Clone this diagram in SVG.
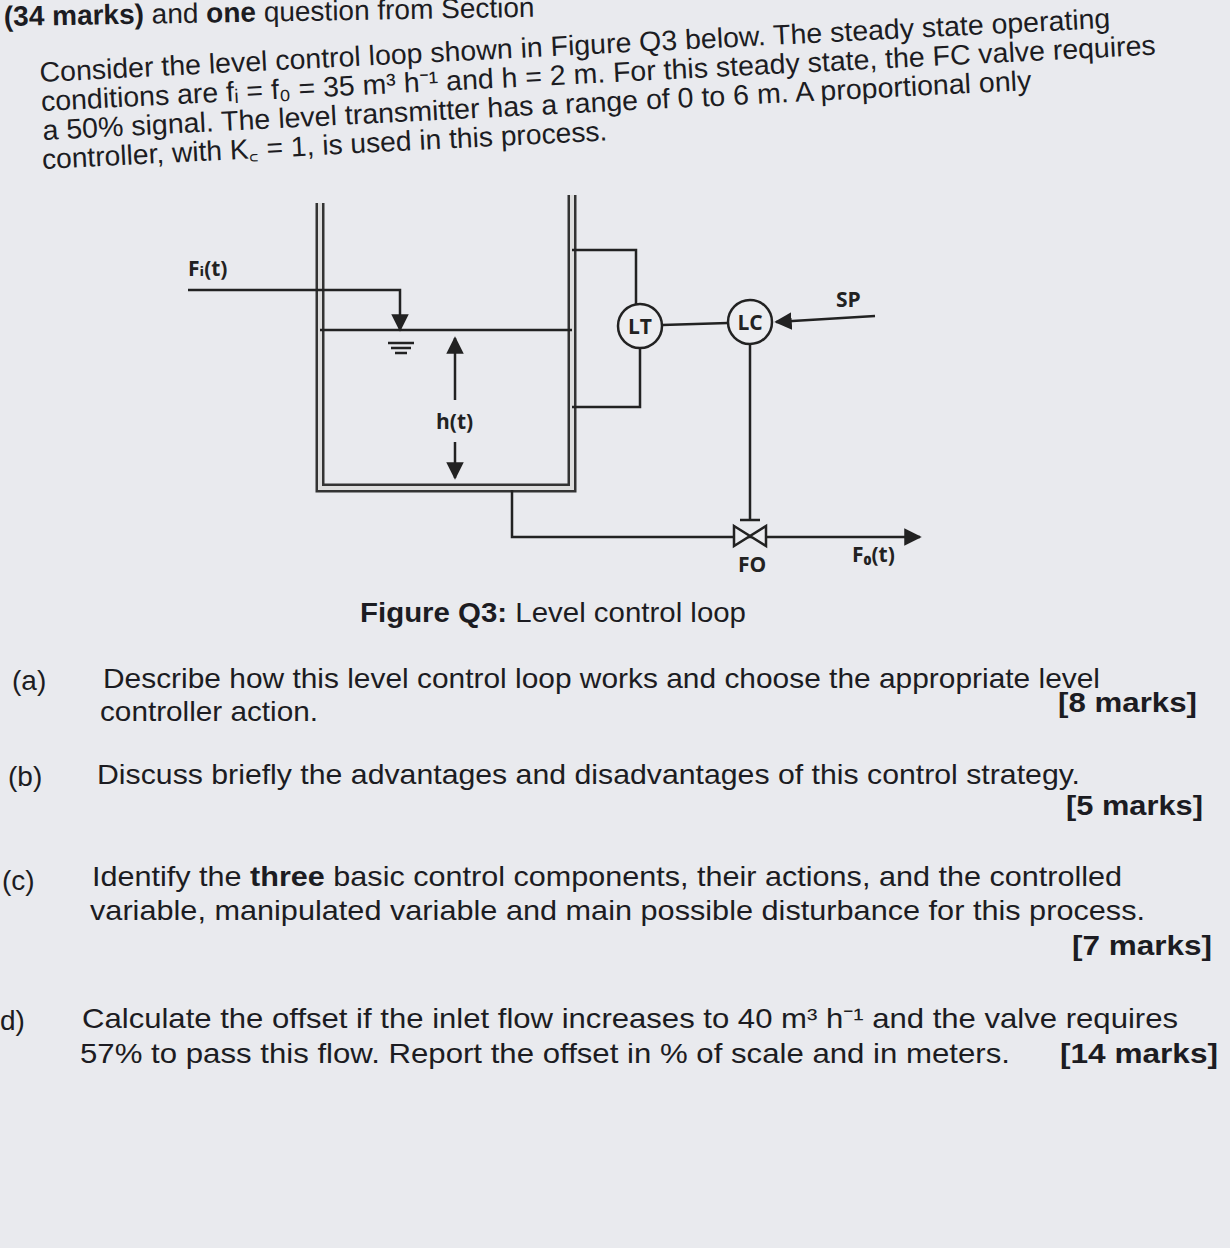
<svg xmlns="http://www.w3.org/2000/svg" width="1230" height="1248" viewBox="0 0 1230 1248">
<defs>
<marker id="ar" viewBox="0 0 10 10" refX="9" refY="5" markerWidth="7" markerHeight="7" orient="auto"><path d="M0,0L10,5L0,10z" fill="#222"/></marker>
<style>
.t{font-family:"Liberation Sans",Arial,sans-serif;font-size:28px;fill:#1c1c22}
.m{font-family:"Liberation Sans",Arial,sans-serif;font-size:27px;font-weight:bold;fill:#1c1c22}
.d{font-family:"Open Sans","DejaVu Sans",sans-serif;font-size:21px;font-weight:bold;fill:#222}
.l{stroke:#222;stroke-width:2.5;fill:none}
.w{stroke:#333;stroke-width:9;fill:none}
.wi{stroke:#ddd;stroke-width:4;fill:none}
</style>
</defs>
<rect width="1230" height="1248" fill="#e9eaee"/>
<g id="header">
<text class="t" x="4" y="26" font-size="23" font-weight="bold" transform="rotate(-1 4 26)">(34 marks) <tspan font-weight="normal">and</tspan> one <tspan font-weight="normal">question from Section</tspan></text>
<g transform="rotate(-2.9 40 82)">
<text class="t" x="40" y="82" textLength="1072" lengthAdjust="spacingAndGlyphs">Consider the level control loop shown in Figure Q3 below. The steady state operating</text>
<text class="t" x="40" y="111" textLength="1116" lengthAdjust="spacingAndGlyphs">conditions are fᵢ = f₀ = 35 m³ h⁻¹ and h = 2 m. For this steady state, the FC valve requires</text>
<text class="t" x="40" y="140" textLength="990" lengthAdjust="spacingAndGlyphs">a 50% signal. The level transmitter has a range of 0 to 6 m. A proportional only</text>
<text class="t" x="38" y="169" textLength="566" lengthAdjust="spacingAndGlyphs">controller, with K꜀ = 1, is used in this process.</text>
</g>
</g>
<g id="tank">
<path class="w" d="M320,203V488H572V195"/>
<path class="wi" d="M320,203V488H572V195"/>
<line class="l" x1="320" y1="330" x2="572" y2="330"/>
<path class="l" d="M388,343h26M391,348h20M395,353h12" stroke-width="1.5"/>
</g>
<g id="connectors">
<path class="l" d="M188,290H400V330" marker-end="url(#ar)"/>
<path class="l" d="M572,250H636V304"/>
<path class="l" d="M572,407H640V348"/>
<line class="l" x1="662" y1="325" x2="728" y2="323"/>
<line class="l" x1="875" y1="316" x2="776" y2="322" marker-end="url(#ar)"/>
<line class="l" x1="750" y1="344" x2="750" y2="520"/>
<path class="l" d="M512,490V537H920" marker-end="url(#ar)"/>
<path class="l" d="M455,400V338" marker-end="url(#ar)"/>
<path class="l" d="M455,442V478" marker-end="url(#ar)"/>
</g>
<g id="LT"><circle cx="640" cy="326" r="22" fill="#ecedf0" stroke="#222" stroke-width="2.5"/><text class="d" x="640" y="334" text-anchor="middle">LT</text></g>
<g id="LC"><circle cx="750" cy="322" r="22" fill="#ecedf0" stroke="#222" stroke-width="2.5"/><text class="d" x="750" y="330" text-anchor="middle">LC</text></g>
<g id="valve">
<path d="M734,526L766,546V526L734,546Z" fill="#ecedf0" stroke="#222" stroke-width="2.5"/>
<path class="l" d="M740,520h20"/>
</g>
<g id="labels">
<text class="d" x="188" y="276">Fᵢ(t)</text>
<text class="d" x="436" y="429">h(t)</text>
<text class="d" x="836" y="307">SP</text>
<text class="d" x="738" y="572" font-weight="normal">FO</text>
<text class="d" x="852" y="562">F₀(t)</text>
<text class="t" x="360" y="622" textLength="386" lengthAdjust="spacingAndGlyphs"><tspan font-weight="bold">Figure Q3:</tspan> Level control loop</text>
</g>
<g id="questions">
<text class="t" x="12" y="690">(a)</text>
<text class="t" x="103" y="688" textLength="997" lengthAdjust="spacingAndGlyphs">Describe how this level control loop works and choose the appropriate level</text>
<text class="t" x="100" y="721" textLength="218" lengthAdjust="spacingAndGlyphs">controller action.</text>
<text class="m" x="1197" y="712" text-anchor="end" textLength="139" lengthAdjust="spacingAndGlyphs">[8 marks]</text>
<text class="t" x="8" y="786">(b)</text>
<text class="t" x="97" y="784" textLength="983" lengthAdjust="spacingAndGlyphs">Discuss briefly the advantages and disadvantages of this control strategy.</text>
<text class="m" x="1203" y="815" text-anchor="end" textLength="137" lengthAdjust="spacingAndGlyphs">[5 marks]</text>
<text class="t" x="2" y="890">(c)</text>
<text class="t" x="92" y="886" textLength="1030" lengthAdjust="spacingAndGlyphs">Identify the <tspan font-weight="bold">three</tspan> basic control components, their actions, and the controlled</text>
<text class="t" x="90" y="920" textLength="1055" lengthAdjust="spacingAndGlyphs">variable, manipulated variable and main possible disturbance for this process.</text>
<text class="m" x="1212" y="955" text-anchor="end" textLength="140" lengthAdjust="spacingAndGlyphs">[7 marks]</text>
<text class="t" x="0" y="1030">d)</text>
<text class="t" x="82" y="1028" textLength="1096" lengthAdjust="spacingAndGlyphs">Calculate the offset if the inlet flow increases to 40 m³ h⁻¹ and the valve requires</text>
<text class="t" x="80" y="1063" textLength="930" lengthAdjust="spacingAndGlyphs">57% to pass this flow. Report the offset in % of scale and in meters.</text>
<text class="m" x="1218" y="1063" text-anchor="end" textLength="158" lengthAdjust="spacingAndGlyphs">[14 marks]</text>
</g>
</svg>
